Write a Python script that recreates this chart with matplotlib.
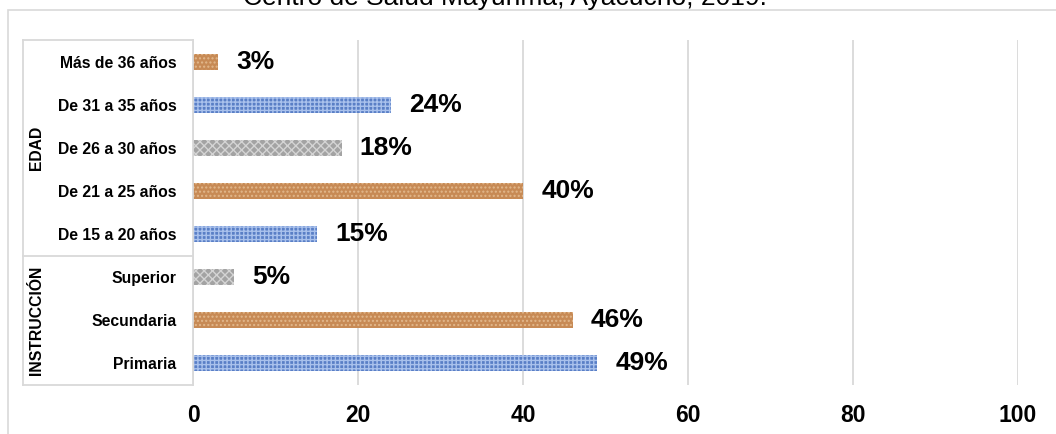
import matplotlib.pyplot as plt
from matplotlib.patches import Rectangle
from matplotlib.lines import Line2D

plt.rcParams['font.family'] = ['Liberation Sans', 'DejaVu Sans']
plt.rcParams['hatch.linewidth'] = 1.0

# categorias de abajo hacia arriba
categorias = ['Primaria', 'Secundaria', 'Superior',
              'De 15 a 20 años', 'De 21 a 25 años', 'De 26 a 30 años',
              'De 31 a 35 años', 'Más de 36 años']
porcentajes = [49, 46, 5, 15, 40, 18, 24, 3]
etiquetas = ['49%', '46%', '5%', '15%', '40%', '18%', '24%', '3%']
grupos = ['INSTRUCCIÓN', 'EDAD']
grupo_tamano = [3, 5]
ticks_x = [0, 20, 40, 60, 80, 100]
titulo = 'Centro de Salud Mayunmá, Ayacucho, 2019.'

# relleno tipo textura: azul, marron, gris
estilos = [
    dict(color='#5a7fc6', edgecolor='#a9c1ec', hatch='++++'),
    dict(color='#c78a55', edgecolor='#e2b88c', hatch='....'),
    dict(color='#a3a3a3', edgecolor='#d4d4d4', hatch='xxxx'),
]

W, H = 1056, 434
fig = plt.figure(figsize=(W / 100, H / 100), dpi=100)
gris = '#d9d9d9'

# marco exterior del grafico
fig.patches.append(Rectangle((8 / W, -0.1), 1.2, 1 - 10.5 / H + 0.1,
                             transform=fig.transFigure, fill=False,
                             edgecolor=gris, linewidth=1.2))
fig.text(505 / W, 1 - 5 / H, titulo, ha='center', va='baseline',
         fontsize=19, color='black')

ax = fig.add_axes([193 / W, 49 / H, 825 / W, 345 / H])
y = list(range(len(categorias)))
for i, (v, lab) in enumerate(zip(porcentajes, etiquetas)):
    st = estilos[i % 3]
    ax.barh(i, v, height=0.37, linewidth=0, **st)
    ax.text(v + 2.2, i, lab, va='center', ha='left', fontsize=19,
            fontweight='bold', color='black')

ax.set_xlim(0, 100)
ax.set_ylim(-0.5, len(categorias) - 0.5)
ax.set_xticks(ticks_x)
ax.set_xticklabels([str(t) for t in ticks_x], fontsize=16.5, fontweight='bold')
ax.set_yticks(y)
ax.set_yticklabels(categorias, fontsize=11.3, fontweight='bold')
ax.tick_params(axis='both', length=0)
ax.tick_params(axis='x', pad=14)
ax.tick_params(axis='y', pad=12)
ax.xaxis.grid(True, color=gris, linewidth=1.3)
ax.set_axisbelow(True)
for s in ['top', 'right', 'bottom']:
    ax.spines[s].set_visible(False)
ax.spines['left'].set_color(gris)
ax.spines['left'].set_linewidth(1.3)

# caja de la categoria multinivel
x0 = 23 / W
x1 = 193 / W
yb = 49 / H
yt = 394 / H
paso = (yt - yb) / len(categorias)
fig.add_artist(Line2D([x0, x0], [yb, yt], color=gris, lw=1.3))
fig.add_artist(Line2D([x0, x1], [yt, yt], color=gris, lw=1.3))
fig.add_artist(Line2D([x0, x1], [yb, yb], color=gris, lw=1.3))
inicio = 0
for g, n in zip(grupos, grupo_tamano):
    fin = inicio + n
    if fin < len(categorias):
        ysep = yb + fin * paso
        fig.add_artist(Line2D([x0, x1], [ysep, ysep], color=gris, lw=1.3))
    yc = yb + (inicio + fin) / 2 * paso
    fig.text(36 / W, yc, g, rotation=90, ha='center', va='center',
             fontsize=11.3, fontweight='bold')
    inicio = fin

fig.savefig('out.png', dpi=100)
